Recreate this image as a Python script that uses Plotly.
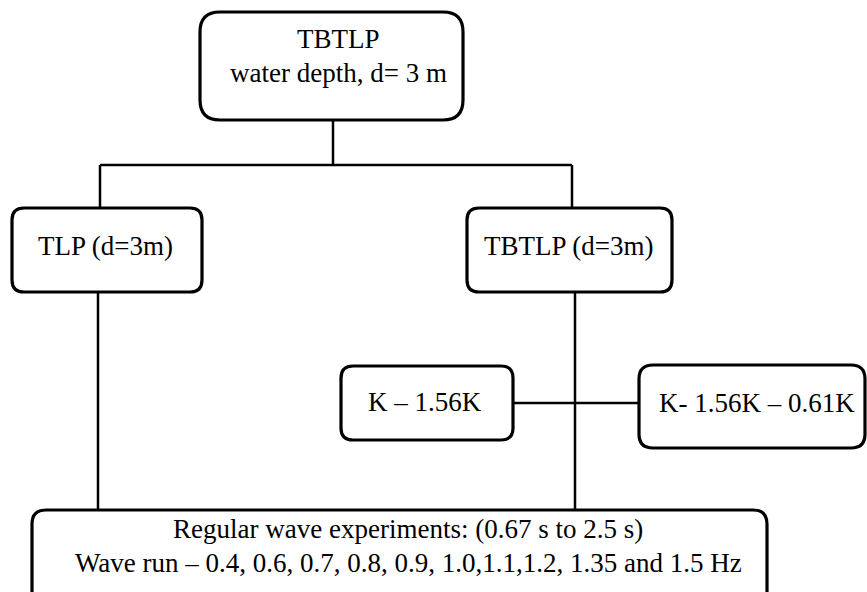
import plotly.graph_objects as go

# ---- content (node labels) ----
node_ids = ["root", "tlp", "tbtlp", "k1", "k2", "waves"]
node_labels = [
    ["TBTLP", "water depth, d= 3 m"],
    ["TLP (d=3m)"],
    ["TBTLP (d=3m)"],
    ["K \u2013 1.56K"],
    ["K- 1.56K \u2013 0.61K"],
    ["Regular wave experiments: (0.67 s to 2.5 s)",
     "Wave run \u2013 0.4, 0.6, 0.7, 0.8, 0.9, 1.0,1.1,1.2, 1.35 and 1.5 Hz"],
]

# ---- layout geometry (pixels, y downwards) ----
W, H = 867, 592
boxes = {
    "root":  dict(x0=200, y0=12,  x1=463, y1=120, r=20),
    "tlp":   dict(x0=12,  y0=208, x1=202, y1=292, r=12),
    "tbtlp": dict(x0=467, y0=208, x1=672, y1=292, r=12),
    "k1":    dict(x0=341, y0=366, x1=513, y1=440, r=12),
    "k2":    dict(x0=639, y0=365, x1=865, y1=448, r=14),
    "waves": dict(x0=32,  y0=510, x1=767, y1=610, r=14),
}
text_pos = {
    "root":  [(338, 39), (338, 73)],
    "tlp":   [(105, 246)],
    "tbtlp": [(568, 246)],
    "k1":    [(425, 402)],
    "k2":    [(757, 403)],
    "waves": [(408, 529), (408, 563)],
}
connectors = [
    (333, 120, 333, 165),
    (100, 165, 572, 165),
    (100, 165, 100, 208),
    (572, 165, 572, 208),
    (98, 292, 98, 510),
    (575, 292, 575, 510),
    (513, 403, 639, 403),
]

FONT = "Liberation Serif, Times New Roman, serif"
FS = 27


def rrect(x0, y0, x1, y1, r):
    return (f"M {x0+r},{y0} L {x1-r},{y0} Q {x1},{y0} {x1},{y0+r} "
            f"L {x1},{y1-r} Q {x1},{y1} {x1-r},{y1} L {x0+r},{y1} "
            f"Q {x0},{y1} {x0},{y1-r} L {x0},{y0+r} Q {x0},{y0} {x0+r},{y0} Z")


fig = go.Figure()
shapes = []
for (x0, y0, x1, y1) in connectors:
    shapes.append(dict(type="line", x0=x0, y0=y0, x1=x1, y1=y1,
                       xref="x", yref="y", line=dict(color="black", width=2.5),
                       layer="below"))
for nid in node_ids:
    b = boxes[nid]
    shapes.append(dict(type="path", path=rrect(b["x0"], b["y0"], b["x1"], b["y1"], b["r"]),
                       xref="x", yref="y", fillcolor="white",
                       line=dict(color="black", width=3.2), layer="above"))

annotations = []
for nid, labels in zip(node_ids, node_labels):
    for (tx, ty), lab in zip(text_pos[nid], labels):
        annotations.append(dict(x=tx, y=ty, xref="x", yref="y", text=lab,
                                showarrow=False, xanchor="center", yanchor="middle",
                                font=dict(family=FONT, size=FS, color="black")))

fig.update_layout(
    width=W, height=H,
    margin=dict(l=0, r=0, t=0, b=0),
    paper_bgcolor="white", plot_bgcolor="white",
    xaxis=dict(range=[0, W], visible=False, fixedrange=True),
    yaxis=dict(range=[H, 0], visible=False, fixedrange=True),
    shapes=shapes, annotations=annotations, showlegend=False,
)
fig.write_html("out.html", config={"displayModeBar": False},
               post_script="document.body.style.margin='0';document.body.style.overflow='hidden';")
